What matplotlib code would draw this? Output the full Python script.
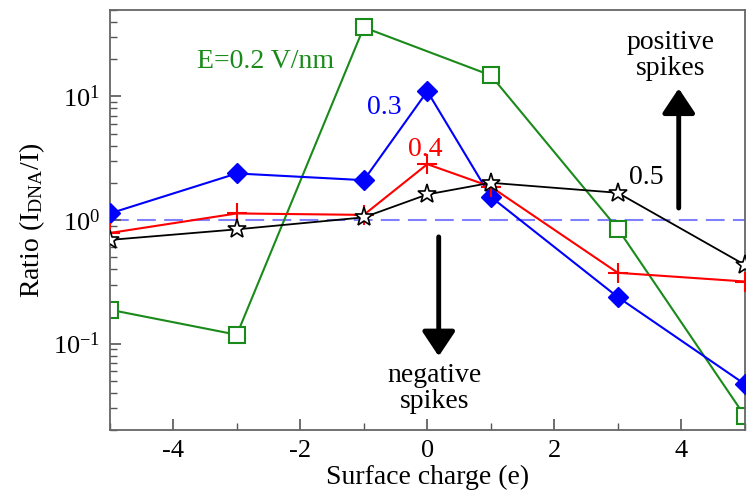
import numpy as np
import matplotlib
matplotlib.use("Agg")
import matplotlib.pyplot as plt
from matplotlib.ticker import MultipleLocator, LogLocator, NullFormatter

plt.rcParams['font.family'] = ['Liberation Serif', 'DejaVu Serif']
plt.rcParams['mathtext.fontset'] = 'custom'
plt.rcParams['mathtext.rm'] = 'Liberation Serif'
plt.rcParams['mathtext.it'] = 'Liberation Serif:italic'

# surface charge (e)
charge = [-5, -3, -1, 0, 1, 3, 5]
charge_02 = [-5, -3, -1, 1, 3, 5]

# ratio I_DNA / I for each field strength
ratio_02 = [0.188, 0.118, 36.2, 14.8, 0.85, 0.026]
ratio_03 = [1.13, 2.38, 2.10, 11.0, 1.54, 0.238, 0.047]
ratio_04 = [0.785, 1.13, 1.10, 2.83, 1.86, 0.374, 0.318]
ratio_05 = [0.69, 0.84, 1.05, 1.61, 2.0, 1.66, 0.434]

fig = plt.figure(figsize=(7.47, 5.0), dpi=100)
ax = fig.add_axes([0.147, 0.14, 0.85, 0.84])

ax.axhline(1.0, color='#8080ff', lw=1.5, ls=(0, (9, 4)), zorder=1)

ax.plot(charge_02, ratio_02, color='#1a8a1a', lw=1.5, marker='s', ms=12,
        mfc='white', mec='#1a8a1a', mew=1.5, zorder=2)
ax.plot(charge, ratio_03, color='blue', lw=1.5, marker='D', ms=10,
        mfc='blue', mec='blue', zorder=3)
ax.plot(charge, ratio_04, color='red', lw=1.5, marker='+', ms=14,
        mew=1.5, zorder=4)
ax.plot(charge, ratio_05, color='black', lw=1.3, marker='*', ms=14,
        mfc='white', mec='black', mew=1.2, zorder=5)

ax.set_yscale('log')
ax.set_xlim(-5, 5)
ax.set_ylim(0.02, 50)

ax.xaxis.set_minor_locator(MultipleLocator(1))
ax.yaxis.set_major_locator(LogLocator(base=10, numticks=10))
ax.yaxis.set_minor_locator(LogLocator(base=10, subs=np.arange(2, 10), numticks=20))
ax.yaxis.set_minor_formatter(NullFormatter())
ax.set_xticks([-4, -2, 0, 2, 4])
ax.set_xticklabels(['-4', '-2', '0', '2', '4'])

ax.tick_params(which='both', direction='in', colors='#555555', labelcolor='black',
               labelsize=19)
ax.tick_params(which='major', length=8, width=1.2, pad=7)
ax.tick_params(which='minor', length=5, width=1.0)
for sp in ax.spines.values():
    sp.set_color('#666666')
    sp.set_linewidth(1.3)

ax.set_xlabel('Surface charge (e)', fontsize=20, labelpad=2)
ax.set_ylabel(r'Ratio (I$_{\mathrm{DNA}}$/I)', fontsize=20, labelpad=4)

ax.text(-3.62, 19, 'E=0.2 V/nm', color='#1a8a1a', fontsize=20, va='center')
ax.text(-0.95, 8.1, '0.3', color='blue', fontsize=20, va='center')
ax.text(-0.31, 3.7, '0.4', color='red', fontsize=20, va='center')
ax.text(3.17, 2.22, '0.5', color='black', fontsize=20, va='center')

ax.text(3.83, 21.4, 'positive\nspikes', fontsize=20, ha='center', va='center',
        linespacing=1.05)
ax.text(0.12, 0.0434, 'negative\nspikes', fontsize=20, ha='center', va='center',
        linespacing=1.05)

arrow_style = dict(arrowstyle='-|>,head_length=0.75,head_width=0.5',
                   mutation_scale=20, color='black', lw=3.5,
                   shrinkA=0, shrinkB=0)
ax.annotate('', xy=(3.96, 11.6), xytext=(3.96, 1.25), arrowprops=arrow_style)
ax.annotate('', xy=(0.18, 0.079), xytext=(0.18, 0.73), arrowprops=arrow_style)

fig.savefig('out.png', dpi=100)
